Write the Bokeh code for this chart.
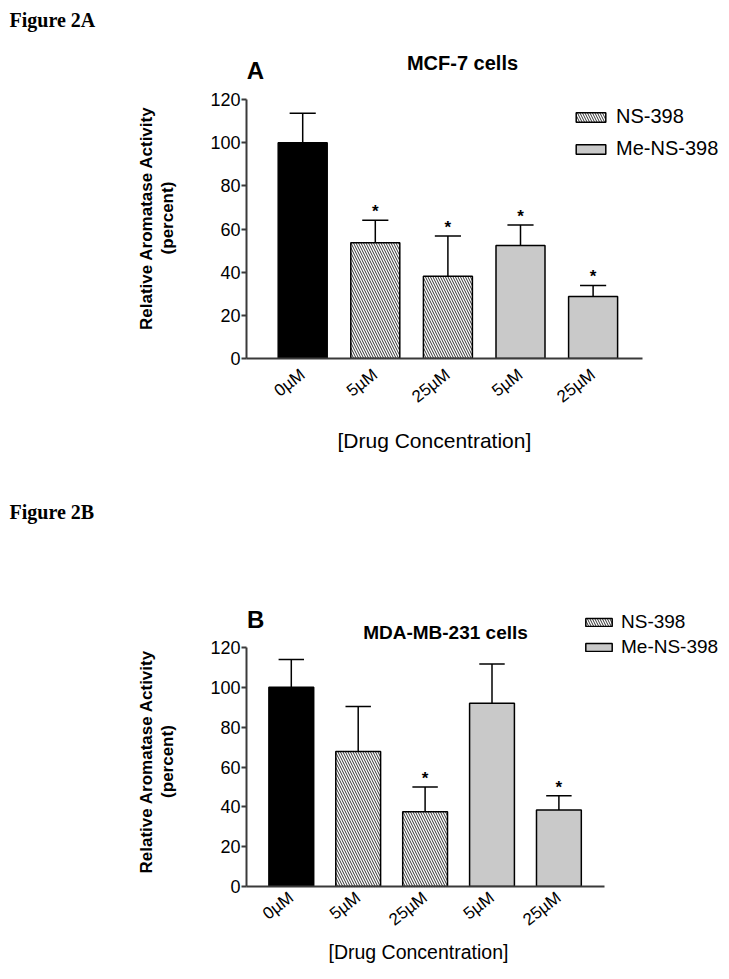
from math import pi
from bokeh.plotting import figure
from bokeh.models import Label, FixedTicker, ColumnDataSource, Title, LinearAxis
from bokeh.layouts import column
from bokeh.embed import file_html
from bokeh.resources import INLINE
from bokeh.core.properties import value

# ---------------- data ----------------
conc_labels = ["0µM", "5µM", "25µM", "5µM", "25µM"]
groups = ["control", "NS-398", "NS-398", "Me-NS-398", "Me-NS-398"]
positions = [1, 2, 3, 4, 5]
y_ticks = [0, 20, 40, 60, 80, 100, 120]

mcf7_mean = [100.0, 53.6, 38.1, 52.4, 28.7]
mcf7_err = [13.6, 10.4, 18.6, 9.4, 5.1]
mcf7_sig = [False, True, True, True, True]

mda_mean = [100.0, 67.8, 37.5, 92.0, 38.4]
mda_err = [14.0, 22.6, 12.5, 19.7, 7.2]
mda_sig = [False, False, True, False, True]

SANS = "Liberation Sans"
SERIF = "Liberation Serif"
W = 729
FL = 246  # common frame left (page px) -> y axis position


def make_panel(mean, err, sig, g, texts, lgd):
    H, top = g["H"], g["top_page"]
    ft, fb, y120 = g["ft"], g["fb"], g["y120"]  # page px
    sp, c1 = g["spacing"], g["c1"]
    x0 = 1 - (c1 - FL) / sp
    x1 = x0 + (W - FL) / sp
    y_end = 120 * (fb - ft) / (fb - y120)
    p = figure(width=W, height=H, x_range=(x0, x1), y_range=(0, y_end),
               output_backend="svg", toolbar_location=None,
               min_border_left=FL, min_border_right=0,
               min_border_top=int(round(ft - top)),
               min_border_bottom=int(round(top + H - fb)))
    p.title.visible = False
    p.outline_line_color = None
    p.xgrid.visible = False
    p.ygrid.visible = False

    def dx(px):
        return x0 + (px - FL) / sp

    def dy(py):
        return (fb - py) / (fb - y120) * 120

    bw = g["bar_w"]
    cap = g["cap"]
    tops = [m + e for m, e in zip(mean, err)]
    p.segment(x0=positions, y0=mean, x1=positions, y1=tops, line_color="black", line_width=1.5)
    p.segment(x0=[x - cap for x in positions], y0=tops, x1=[x + cap for x in positions], y1=tops,
              line_color="black", line_width=1.5)

    styles = [("control", "black", None), ("NS-398", "white", "left_diagonal_line"),
              ("Me-NS-398", "#c9c9c9", None)]
    for grp, fill, hatch in styles:
        idx = [i for i, gg in enumerate(groups) if gg == grp]
        src = ColumnDataSource(dict(x=[positions[i] for i in idx], top=[mean[i] for i in idx]))
        kw = dict(x="x", top="top", bottom=0, width=bw, source=src, fill_color=fill,
                  line_color="black", line_width=1.5)
        if hatch:
            kw.update(hatch_pattern=hatch, hatch_scale=5, hatch_weight=0.8, hatch_color="black")
        if grp != "control":
            kw["legend_label"] = grp
        p.vbar(**kw)

    sx = [positions[i] for i in range(5) if sig[i]]
    sy = [tops[i] for i in range(5) if sig[i]]
    p.text(x=sx, y=sy, text=["*"] * len(sx), text_align="center", text_baseline="middle",
           y_offset=g["star_off"], text_font=value(SANS), text_font_style="bold",
           text_font_size="17px", text_color="black")

    # x axis
    p.xaxis.ticker = FixedTicker(ticks=positions)
    p.xaxis.major_label_overrides = {pos: lab for pos, lab in zip(positions, conc_labels)}
    p.xaxis.major_label_orientation = 0.66
    p.xaxis.bounds = (x0, g["x_axis_end"])
    p.xaxis.major_tick_out = 0
    p.xaxis.major_tick_in = 0
    p.xaxis.minor_tick_out = 0
    p.xaxis.minor_tick_in = 0
    p.xaxis.major_label_standoff = g["xlab_standoff"]
    p.xaxis.major_label_text_font = SANS
    p.xaxis.major_label_text_font_size = "17px"
    p.xaxis.major_label_text_color = "black"

    # y axis
    p.yaxis.ticker = FixedTicker(ticks=y_ticks)
    p.yaxis.bounds = (0, 120)
    p.yaxis.major_tick_out = 5
    p.yaxis.major_tick_in = 0
    p.yaxis.minor_tick_out = 0
    p.yaxis.minor_tick_in = 0
    p.yaxis.major_label_standoff = 1
    p.yaxis.major_label_text_font = SANS
    p.yaxis.major_label_text_font_size = "18px"
    p.yaxis.major_label_text_color = "black"

    for ax in (p.xaxis, p.yaxis):
        ax.axis_line_color = "#3a3a3a"
        ax.axis_line_width = 2
        ax.major_tick_line_color = "#3a3a3a"
        ax.major_tick_line_width = 2

    # titles in side panels
    p.add_layout(Title(text=texts["fig"], align="left", offset=9 - FL, vertical_align="middle",
                       standoff=0, text_font=SERIF, text_font_size="20px",
                       text_font_style="bold", text_color="black"), "above")
    # blank gap between the tick labels and the y-axis title: an extra left axis whose
    # only tick is white and unlabeled
    gap = LinearAxis(ticker=FixedTicker(ticks=[0]), major_label_overrides={0: ""},
                     axis_line_color=None, major_tick_out=g["ygap"], major_tick_in=0,
                     minor_tick_out=0, minor_tick_in=0, major_tick_line_color="white",
                     major_tick_line_width=1, major_label_standoff=0,
                     major_label_text_font_size="1px", major_label_text_color="white")
    p.add_layout(gap, "left")
    p.add_layout(Title(text="(percent)", align="left", offset=g["yl2_off"],
                       vertical_align="middle", standoff=0, text_font=SANS,
                       text_font_size="17px", text_font_style="bold", text_color="black"), "left")
    p.add_layout(Title(text="Relative Aromatase Activity", align="left", offset=g["yl1_off"],
                       vertical_align="middle", standoff=0, text_font=SANS,
                       text_font_size="17px", text_font_style="bold", text_color="black"), "left")
    p.add_layout(Title(text="[Drug Concentration]", align="left", offset=g["xl_left"] - FL,
                       vertical_align="middle", standoff=g["xl_standoff"], text_font=SANS,
                       text_font_size=g["xl_size"], text_font_style="normal",
                       text_color="black"), "below")

    # legend
    lg = p.legend[0]
    lg.location = (lgd["x"] - FL, fb - lgd["bottom"])
    lg.padding = 0
    lg.margin = 0
    lg.border_line_color = None
    lg.background_fill_alpha = 0
    lg.glyph_width = lgd["gw"]
    lg.glyph_height = lgd["gh"]
    lg.label_height = lgd["lh"]
    lg.spacing = lgd["sp"]
    lg.label_standoff = lgd["so"]
    lg.label_text_font = SANS
    lg.label_text_font_size = lgd["fs"]
    lg.label_text_color = "black"

    # in-frame texts (positions are cap-centres)
    for t in texts["labels"]:
        p.add_layout(Label(x=dx(t["px"]), y=dy(t["py"]), text=t["text"],
                           text_font=SANS, text_font_size=t["size"], text_font_style="bold",
                           text_align=t.get("align", "center"), text_baseline="middle",
                           text_color="black"))
    return p


geoA = dict(H=470, top_page=0, ft=31, fb=358, y120=99, spacing=72.6, c1=302.2, bar_w=0.675,
            cap=0.18, star_off=-9, x_axis_end=5.682, xlab_standoff=14, ygap=30,
            yl1_off=28.5, yl2_off=104.1, xl_left=337, xl_standoff=23, xl_size="21px")
textsA = dict(fig="Figure 2A", labels=[
    dict(text="A", px=255, py=69.7, size="24px"),
    dict(text="MCF-7 cells", px=462, py=62.1, size="20px"),
])
legA = dict(x=572, bottom=160.2, gw=37, gh=12, lh=23, sp=9, so=7, fs="20px")

geoB = dict(H=505, top_page=470, ft=523, fb=886, y120=647, spacing=66.9, c1=290.8, bar_w=0.67,
            cap=0.19, star_off=-8, x_axis_end=5.68, xlab_standoff=9, ygap=30,
            yl1_off=13, yl2_off=88.6, xl_left=328, xl_standoff=0, xl_size="19.5px")
textsB = dict(fig="Figure 2B", labels=[
    dict(text="B", px=246.5, py=618.5, size="24px", align="left"),
    dict(text="MDA-MB-231 cells", px=445, py=631.7, size="19px"),
])
legB = dict(x=582, bottom=658, gw=33, gh=10, lh=22, sp=3, so=6, fs="19px")

pA = make_panel(mcf7_mean, mcf7_err, mcf7_sig, geoA, textsA, legA)
pB = make_panel(mda_mean, mda_err, mda_sig, geoB, textsB, legB)

layout = column(pA, pB, spacing=0)
open("out.html", "w").write(file_html(layout, INLINE))
